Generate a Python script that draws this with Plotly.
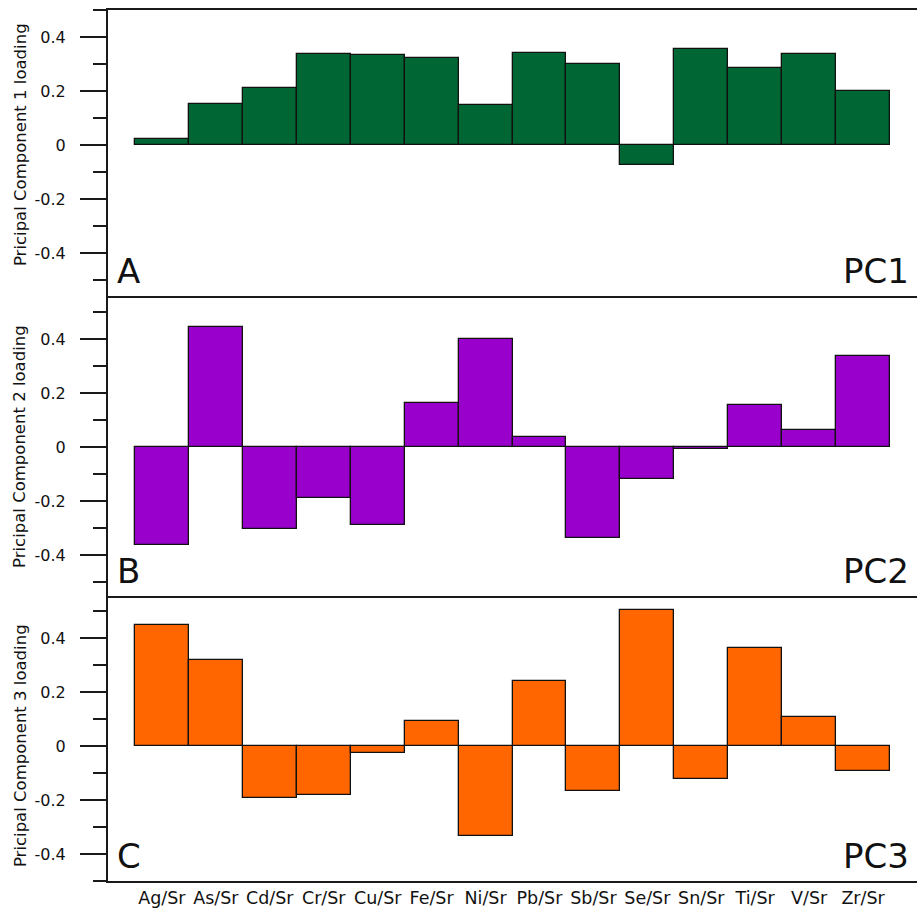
import plotly.graph_objects as go
from plotly.subplots import make_subplots

categories = ["Ag/Sr", "As/Sr", "Cd/Sr", "Cr/Sr", "Cu/Sr", "Fe/Sr", "Ni/Sr",
              "Pb/Sr", "Sb/Sr", "Se/Sr", "Sn/Sr", "Ti/Sr", "V/Sr", "Zr/Sr"]

pc1 = [0.021, 0.151, 0.212, 0.338, 0.333, 0.324, 0.148,
       0.342, 0.299, -0.074, 0.354, 0.286, 0.338, 0.200]
pc2 = [-0.363, 0.443, -0.305, -0.190, -0.290, 0.161, 0.401,
       0.037, -0.336, -0.120, -0.006, 0.156, 0.063, 0.337]
pc3 = [0.448, 0.319, -0.193, -0.181, -0.026, 0.093, -0.333,
       0.241, -0.167, 0.504, -0.123, 0.362, 0.109, -0.091]

series = [pc1, pc2, pc3]
colors = ["#006633", "#9900CC", "#FF6600"]
panel_letters = ["A", "B", "C"]
panel_names = ["PC1", "PC2", "PC3"]
y_titles = ["Pricipal Component 1 loading", "Pricipal Component 2 loading",
            "Pricipal Component 3 loading"]
tick_vals = [-0.4, -0.2, 0, 0.2, 0.4]
tick_text = ["-0.4", "-0.2", "0", "0.2", "0.4"]
y_ranges = [[-0.559, 0.5], [-0.552, 0.559], [-0.5, 0.556]]

FONT = "DejaVu Sans"

fig = make_subplots(rows=3, cols=1, shared_xaxes=False, vertical_spacing=0)

# domains (paper fractions) so that panels meet exactly
doms = [[0.6716, 1.0], [0.3272, 0.6716], [0.0, 0.3272]]

for i in range(3):
    fig.add_trace(
        go.Bar(
            x=categories,
            y=series[i],
            width=1.0,
            marker=dict(color=colors[i], line=dict(color="#111111", width=1.3)),
            showlegend=False,
            hoverinfo="x+y",
        ),
        row=i + 1, col=1,
    )
    xa = "xaxis" if i == 0 else f"xaxis{i+1}"
    ya = "yaxis" if i == 0 else f"yaxis{i+1}"
    fig.layout[xa].update(
        type="category",
        categoryorder="array",
        categoryarray=categories,
        range=[-1, 14],
        showline=True,
        mirror=(i == 0),
        linecolor="#1a1a1a",
        linewidth=2,
        ticks="",
        showgrid=False,
        zeroline=False,
        showticklabels=(i == 2),
        tickfont=dict(family=FONT, size=17.5, color="#111111"),
    )
    fig.layout[ya].update(
        domain=doms[i],
        range=y_ranges[i],
        showline=True,
        mirror=False,
        linecolor="#1a1a1a",
        linewidth=2,
        ticks="outside",
        ticklen=26,
        tickwidth=2,
        tickcolor="#1a1a1a",
        tickvals=tick_vals,
        ticktext=tick_text,
        ticklabelstandoff=11,
        tickfont=dict(family=FONT, size=16, color="#111111"),
        showgrid=False,
        zeroline=False,
        minor=dict(dtick=0.1, tick0=0, ticks="outside", ticklen=13,
                   tickwidth=2, tickcolor="#1a1a1a", showgrid=False),
    )
    yref = "y" if i == 0 else f"y{i+1}"
    # y-axis title, centered on zero
    fig.add_annotation(
        text=y_titles[i], textangle=-90,
        xref="paper", x=0, xanchor="center", xshift=-88,
        yref=yref, y=0, yanchor="middle",
        showarrow=False,
        font=dict(family=FONT, size=16.5, color="#111111"),
    )
    # panel letter
    fig.add_annotation(
        text=panel_letters[i],
        xref="paper", x=0, xanchor="left", xshift=7,
        yref=f"{yref} domain", y=0, yanchor="bottom", yshift=3,
        showarrow=False,
        font=dict(family=FONT, size=34, color="#111111"),
    )
    # panel name
    fig.add_annotation(
        text=panel_names[i],
        xref="paper", x=1, xanchor="right", xshift=-6,
        yref=f"{yref} domain", y=0, yanchor="bottom", yshift=3,
        showarrow=False,
        font=dict(family=FONT, size=34, color="#111111"),
    )

fig.update_layout(
    width=917, height=911, autosize=False,
    margin=dict(l=108, r=0, t=10, b=30),
    plot_bgcolor="white", paper_bgcolor="white",
    bargap=0,
)

fig.write_html(
    "out.html",
    config={"displayModeBar": False},
    post_script="document.body.style.margin='0';document.body.style.overflow='hidden';",
)
